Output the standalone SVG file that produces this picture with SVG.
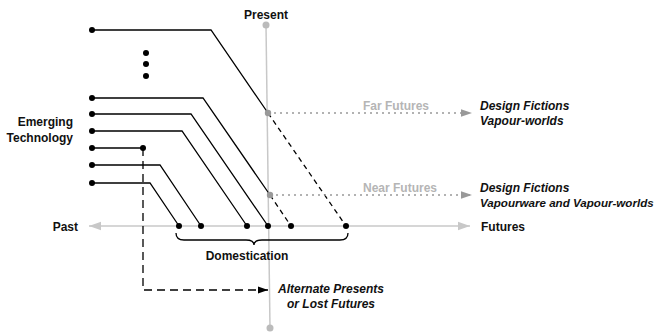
<svg xmlns="http://www.w3.org/2000/svg" width="656" height="333" viewBox="0 0 656 333">
<defs>
<style>
.t{font-family:"Liberation Sans",Arial,sans-serif;font-size:12px;font-weight:bold;fill:#111}
.bi{font-style:italic}
.sm{font-size:11.6px}
.g{fill:#b5b5b5}
.ax{stroke:#c8c8c8;stroke-width:1.5;fill:none}
.ln{stroke:#000;stroke-width:1.3;fill:none}
.dl{stroke:#000;stroke-width:1.3;fill:none;stroke-dasharray:5,4}
.dl2{stroke:#000;stroke-width:1.3;fill:none;stroke-dasharray:8,5}
.dt{stroke:#999;stroke-width:1.5;fill:none;stroke-dasharray:2,4}
.d{fill:#000}
.gd{fill:#bbb}
</style>
<marker id="ga" viewBox="0 0 10 10" refX="10" refY="5" markerWidth="12" markerHeight="12" markerUnits="userSpaceOnUse" orient="auto"><path d="M0,1.5L10,5L0,8.5z" fill="#c8c8c8"/></marker>
<marker id="ga2" viewBox="0 0 10 10" refX="10" refY="5" markerWidth="11" markerHeight="11" markerUnits="userSpaceOnUse" orient="auto"><path d="M0,1.5L10,5L0,8.5z" fill="#999"/></marker>
<marker id="ba" viewBox="0 0 10 10" refX="10" refY="5" markerWidth="10" markerHeight="10" markerUnits="userSpaceOnUse" orient="auto"><path d="M0,1.5L10,5L0,8.5z" fill="#000"/></marker>
</defs>
<g id="axes">
<line class="ax" x1="266" y1="25" x2="270" y2="328"/>
<circle class="gd" cx="266" cy="25" r="3.5"/>
<circle class="gd" cx="270" cy="328" r="3.5"/>
<line class="ax" x1="268" y1="226" x2="89" y2="226" marker-end="url(#ga)"/>
<line class="ax" x1="268" y1="226" x2="470" y2="226" marker-end="url(#ga)"/>
</g>
<g id="connectors">
<polyline class="ln" points="92,30 211,30 268,113"/>
<polyline class="dl" points="268,113 346,226"/>
<polyline class="ln" points="92,98 203,98 270,195"/>
<polyline class="dl" points="270,195 291,226"/>
<polyline class="ln" points="92,114 191,114 268,226"/>
<polyline class="ln" points="92,131 182,131 247,226"/>
<polyline class="ln" points="92,148 143,148"/>
<polyline class="dl2" points="143,148 143,290 268,290" marker-end="url(#ba)"/>
<polyline class="ln" points="92,165 160,165 201,226"/>
<polyline class="ln" points="92,183 150,183 179,226"/>
<line class="dt" x1="268" y1="113" x2="472" y2="113" marker-end="url(#ga2)"/>
<line class="dt" x1="270" y1="195" x2="472" y2="195" marker-end="url(#ga2)"/>
<circle cx="268" cy="113" r="3.2" fill="#999"/>
<circle cx="270" cy="195" r="3.2" fill="#999"/>
</g>
<g id="dots">
<circle class="d" cx="92" cy="30" r="3"/>
<circle class="d" cx="146" cy="53" r="3"/>
<circle class="d" cx="146" cy="64" r="3"/>
<circle class="d" cx="146" cy="76" r="3"/>
<circle class="d" cx="92" cy="98" r="3"/>
<circle class="d" cx="92" cy="114" r="3"/>
<circle class="d" cx="92" cy="131" r="3"/>
<circle class="d" cx="92" cy="148" r="3"/>
<circle class="d" cx="143" cy="148" r="3"/>
<circle class="d" cx="92" cy="165" r="3"/>
<circle class="d" cx="92" cy="183" r="3"/>
<circle class="d" cx="179" cy="226" r="3"/>
<circle class="d" cx="201" cy="226" r="3"/>
<circle class="d" cx="247" cy="226" r="3"/>
<circle class="d" cx="268" cy="226" r="3"/>
<circle class="d" cx="291" cy="226" r="3"/>
<circle class="d" cx="346" cy="226" r="3"/>
</g>
<g id="brace">
<path class="ln" d="M176,233 Q176,240 184,240 L246,240 Q254,240 254,245 Q254,240 262,240 L340,240 Q348,240 348,233"/>
</g>
<g id="labels">
<text class="t" x="266" y="19" text-anchor="middle">Present</text>
<text class="t" x="73" y="126" text-anchor="end">Emerging</text>
<text class="t" x="73" y="142" text-anchor="end">Technology</text>
<text class="t" x="78" y="231" text-anchor="end">Past</text>
<text class="t" x="481" y="231">Futures</text>
<text class="t" x="247" y="260" text-anchor="middle">Domestication</text>
<text class="t g" x="396" y="110" text-anchor="middle">Far Futures</text>
<text class="t g" x="400" y="192" text-anchor="middle">Near Futures</text>
<text class="t bi" x="480" y="110">Design Fictions</text>
<text class="t bi" x="480" y="125">Vapour-worlds</text>
<text class="t bi" x="480" y="192">Design Fictions</text>
<text class="t bi sm" x="480" y="207">Vapourware and Vapour-worlds</text>
<text class="t bi" x="331" y="293" text-anchor="middle">Alternate Presents</text>
<text class="t bi" x="331" y="308" text-anchor="middle">or Lost Futures</text>
</g>
</svg>
